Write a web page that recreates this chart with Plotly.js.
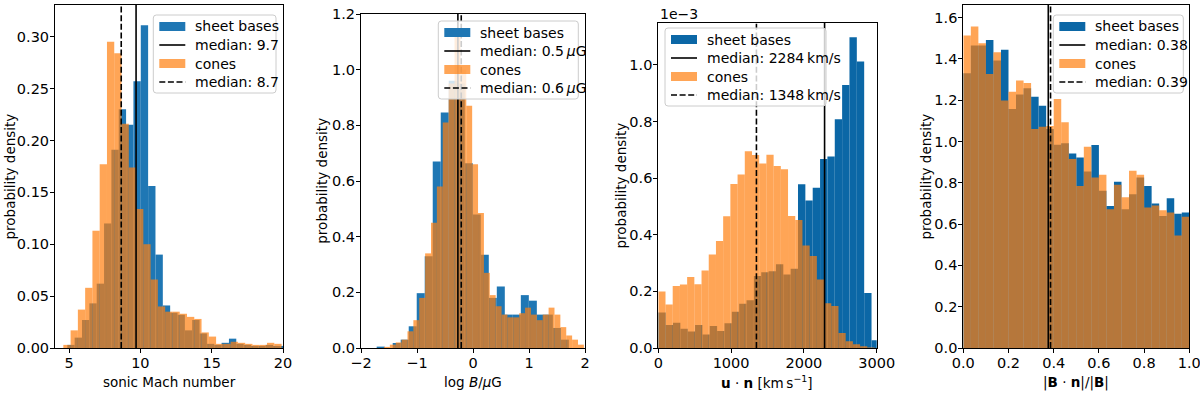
<!DOCTYPE html>
<html>
<head>
<meta charset="utf-8">
<script src="https://cdn.plot.ly/plotly-3.0.1.min.js"></script>
<style>
  html, body { margin: 0; padding: 0; background: #fff; }
  #chart { width: 1200px; height: 397px; }
</style>
</head>
<body>
<div id="chart"></div>
<script>
// ============================================================================
// Sheet bases vs cones: four normalised histograms
// ============================================================================

// --- panel 1: sonic Mach number ---
const machSheetStart = 4.88, machSheetWidth = 0.515;
const machSheet = [0.003, 0.010, 0.027, 0.043, 0.062, 0.120, 0.191, 0.230, 0.215, 0.257,
                   0.311, 0.156, 0.090, 0.041, 0.034, 0.032, 0.017, 0.027, 0.014, 0.004,
                   0.003, 0.005, 0.009, 0.004, 0.003, 0.002, 0.002, 0.003, 0.002, 0.002];
const machConeStart = 4.6, machConeWidth = 0.51;
const machCone = [0.003, 0.017, 0.037, 0.058, 0.113, 0.177, 0.295, 0.284, 0.216, 0.174,
                  0.134, 0.100, 0.066, 0.040, 0.035, 0.035, 0.033, 0.030, 0.028, 0.015,
                  0.011, 0.004, 0.004, 0.006, 0.005, 0.004, 0.003, 0.003, 0.005, 0.004];

// --- panel 2: log B / muG ---
const bSheetStart = -1.72, bSheetWidth = 0.143;
const bSheet = [0.005, 0.0, 0.018, 0.030, 0.078, 0.197, 0.330, 0.670, 0.846, 0.960,
                0.950, 0.664, 0.480, 0.335, 0.180, 0.221, 0.120, 0.120, 0.190, 0.170,
                0.120, 0.120, 0.072, 0.030];
const bConeStart = -1.59, bConeWidth = 0.105;
const bCone = [0.004, 0.012, 0.020, 0.030, 0.060, 0.100, 0.180, 0.340, 0.450, 0.580,
               0.810, 0.950, 1.130, 1.000, 0.870, 0.660, 0.485, 0.270, 0.190, 0.150,
               0.120, 0.110, 0.110, 0.125, 0.145, 0.120, 0.100, 0.120, 0.145, 0.120,
               0.075, 0.045, 0.030, 0.012];

// --- panel 3: u.n [km/s], density in units of 1e-3 ---
const uSheetStart = 0, uSheetWidth = 101;
const uSheet = [0.125, 0.081, 0.089, 0.068, 0.058, 0.081, 0.048, 0.078, 0.060, 0.087,
                0.128, 0.156, 0.169, 0.254, 0.268, 0.271, 0.296, 0.260, 0.280, 0.578,
                0.521, 0.566, 0.668, 0.676, 0.808, 0.929, 1.098, 1.012, 0.194, 0.027];
const uConeStart = 0, uConeWidth = 99;
const uCone = [0.200, 0.154, 0.219, 0.224, 0.251, 0.225, 0.274, 0.330, 0.378, 0.465,
               0.579, 0.613, 0.695, 0.682, 0.652, 0.683, 0.643, 0.631, 0.466, 0.452,
               0.362, 0.325, 0.242, 0.158, 0.148, 0.053, 0.024, 0.013, 0.006, 0.002];

// --- panel 4: |B.n|/|B| ---
const angStart = 0, angWidth = 1 / 30;
const angSheet = [1.330, 1.465, 1.465, 1.492, 1.392, 1.444, 1.157, 1.227, 1.258, 1.217,
                  1.173, 1.060, 0.984, 0.991, 0.942, 0.923, 0.855, 0.983, 0.761, 0.688,
                  0.805, 0.672, 0.745, 0.826, 0.785, 0.700, 0.639, 0.725, 0.650, 0.656];
const angCone = [1.513, 1.557, 1.476, 1.327, 1.432, 1.198, 1.241, 1.295, 1.283, 1.060,
                 1.072, 1.075, 1.206, 1.093, 0.915, 0.785, 0.974, 0.826, 0.839, 0.672,
                 0.790, 0.730, 0.858, 0.839, 0.680, 0.690, 0.667, 0.656, 0.545, 0.635];

// medians (sheet bases solid, cones dashed)
const medianSheet = [9.7, -0.27, 2284, 0.376];
const medianCone = [8.66, -0.21, 1348, 0.386];
const medianSheetLabels = ['median: 9.7', 'median: 0.5\u2009<i>μ</i>G', 'median: 2284\u2009km/s', 'median: 0.38'];
const medianConeLabels = ['median: 8.7', 'median: 0.6\u2009<i>μ</i>G', 'median: 1348\u2009km/s', 'median: 0.39'];

const xTitles = ['sonic Mach number', 'log <i>B</i>/<i>μ</i>G',
                 '<b>u</b> · <b>n</b> [km\u2009s<sup>−1</sup>]', '|<b>B</b> · <b>n</b>|/|<b>B</b>|'];

// ----------------------------------------------------------------------------
const W = 1200, H = 397;
const FONT = 'DejaVu Sans, sans-serif';
const TICK_SIZE = 14.5, LABEL_SIZE = 13.5, LEGEND_SIZE = 14;
const px = p => p / W;
const py = p => 1 - p / H;

const blues = ['#1f77b4', '#1f77b4', '#0b67a6', '#0b67a6'];
const orange = 'rgba(255,127,14,0.7)';
const DASH = '6px,2.6px';

// plot boxes in pixels: left, right, top, bottom
const boxes = [
    { l: 55, r: 283, t: 5, b: 348 },
    { l: 361, r: 585, t: 14, b: 348 },
    { l: 658.3, r: 876.7, t: 23, b: 348 },
    { l: 963.3, r: 1189.3, t: 5, b: 348 }
];
const legendBoxes = [
    { l: 153.3, r: 276, t: 15 },
    { l: 438.3, r: 578.3, t: 21 },
    { l: 665, r: 826, t: 28 },
    { l: 1053.3, r: 1183.3, t: 15 }
];

const edges = (start, width, n) => Array.from({ length: n }, (_, i) => start + i * width);

const series = [
    [machSheetStart, machSheetWidth, machSheet, machConeStart, machConeWidth, machCone],
    [bSheetStart, bSheetWidth, bSheet, bConeStart, bConeWidth, bCone],
    [uSheetStart, uSheetWidth, uSheet, uConeStart, uConeWidth, uCone],
    [angStart, angWidth, angSheet, angStart, angWidth, angCone]
];

const traces = [];
series.forEach((s, i) => {
    const ax = i === 0 ? '' : String(i + 1);
    traces.push({
        type: 'bar', x: edges(s[0], s[1], s[2].length), y: s[2],
        width: s[1], offset: 0, xaxis: 'x' + ax, yaxis: 'y' + ax,
        marker: { color: blues[i], line: { width: 0 } }, showlegend: false, hoverinfo: 'skip'
    });
    traces.push({
        type: 'bar', x: edges(s[3], s[4], s[5].length), y: s[5],
        width: s[4], offset: 0, xaxis: 'x' + ax, yaxis: 'y' + ax,
        marker: { color: orange, line: { width: 0 } }, showlegend: false, hoverinfo: 'skip'
    });
});

const axisBase = {
    showline: true, mirror: true, linecolor: 'black', linewidth: 1,
    ticks: 'outside', ticklen: 4, tickwidth: 1, tickcolor: 'black',
    showgrid: false, zeroline: false, fixedrange: true,
    ticklabeloverflow: 'allow',
    tickfont: { family: FONT, size: TICK_SIZE, color: 'black' }
};

const xRanges = [[4.017, 20], [-2, 2], [0, 3000], [0, 1]];
const xTicks = [[5, 10, 15, 20], [-2, -1, 0, 1, 2], [0, 1000, 2000, 3000], [0, 0.2, 0.4, 0.6, 0.8, 1.0]];
const xFormats = ['d', 'd', 'd', '.1f'];
const yRanges = [[0, 0.3305], [0, 1.2], [0, 1.148], [0, 1.661]];
const yTicks = [[0, 0.05, 0.1, 0.15, 0.2, 0.25, 0.3], [0, 0.2, 0.4, 0.6, 0.8, 1.0, 1.2],
                [0, 0.2, 0.4, 0.6, 0.8, 1.0], [0, 0.2, 0.4, 0.6, 0.8, 1.0, 1.2, 1.4, 1.6]];
const yFormats = ['.2f', '.1f', '.1f', '.1f'];

const layout = {
    width: W, height: H,
    margin: { l: 0, r: 0, t: 0, b: 0 },
    paper_bgcolor: 'white', plot_bgcolor: 'white',
    barmode: 'overlay', showlegend: false,
    font: { family: FONT, size: LABEL_SIZE, color: 'black' },
    shapes: [], annotations: []
};

boxes.forEach((bx, i) => {
    const ax = i === 0 ? '' : String(i + 1);
    layout['xaxis' + ax] = {
        ...axisBase, domain: [px(bx.l), px(bx.r)], range: xRanges[i],
        tickvals: xTicks[i], tickformat: xFormats[i], anchor: 'y' + ax,
        ticklabelstandoff: -2
    };
    layout['yaxis' + ax] = {
        ...axisBase, domain: [py(bx.b), py(bx.t)], range: yRanges[i],
        tickvals: yTicks[i], tickformat: yFormats[i], anchor: 'x' + ax,
        ticklabelstandoff: -2
    };

    // median lines
    layout.shapes.push({
        type: 'line', xref: 'x' + ax, yref: 'y' + ax + ' domain',
        x0: medianSheet[i], x1: medianSheet[i], y0: 0, y1: 1,
        line: { color: 'black', width: 1.6 }
    });
    layout.shapes.push({
        type: 'line', xref: 'x' + ax, yref: 'y' + ax + ' domain',
        x0: medianCone[i], x1: medianCone[i], y0: 0, y1: 1,
        line: { color: 'black', width: 1.6, dash: DASH }
    });

    // axis titles
    layout.annotations.push({
        xref: 'paper', yref: 'paper', x: px((bx.l + bx.r) / 2), y: py(382),
        text: xTitles[i], showarrow: false, xanchor: 'center', yanchor: 'middle',
        font: { family: FONT, size: LABEL_SIZE }
    });
    const yTitleX = [9, 321.7, 620, 925][i];
    layout.annotations.push({
        xref: 'paper', yref: 'paper', x: px(yTitleX), y: py((bx.t + bx.b) / 2),
        text: 'probability density', textangle: -90, showarrow: false,
        xanchor: 'center', yanchor: 'middle', font: { family: FONT, size: LABEL_SIZE }
    });

    // legend, drawn by hand like matplotlib's
    const lb = legendBoxes[i];
    const lh = 78, r = 3;
    const L = lb.l, R = lb.r, T = lb.t, B = lb.t + lh;
    const P = (x, y) => px(x) + ',' + py(y);
    layout.shapes.push({
        type: 'path', xref: 'paper', yref: 'paper',
        path: 'M' + P(L + r, T) + 'L' + P(R - r, T) + 'Q' + P(R, T) + ' ' + P(R, T + r) +
              'L' + P(R, B - r) + 'Q' + P(R, B) + ' ' + P(R - r, B) +
              'L' + P(L + r, B) + 'Q' + P(L, B) + ' ' + P(L, B - r) +
              'L' + P(L, T + r) + 'Q' + P(L, T) + ' ' + P(L + r, T) + 'Z',
        fillcolor: 'rgba(255,255,255,0.8)', line: { color: '#cccccc', width: 1 }
    });
    const rows = [11.5, 30, 48.5, 67].map(d => T + d);
    const hx0 = L + 6, hx1 = L + 32;
    const rowLabels = ['sheet bases', medianSheetLabels[i], 'cones', medianConeLabels[i]];
    rows.forEach((ry, k) => {
        if (k === 0 || k === 2) {
            layout.shapes.push({
                type: 'rect', xref: 'paper', yref: 'paper',
                x0: px(hx0), x1: px(hx1), y0: py(ry + 4.5), y1: py(ry - 4.5),
                fillcolor: k === 0 ? blues[i] : orange, line: { width: 0 }
            });
        } else {
            layout.shapes.push({
                type: 'line', xref: 'paper', yref: 'paper',
                x0: px(hx0), x1: px(hx1), y0: py(ry), y1: py(ry),
                line: { color: 'black', width: 1.6, dash: k === 3 ? DASH : 'solid' }
            });
        }
        layout.annotations.push({
            xref: 'paper', yref: 'paper', x: px(L + 40), y: py(ry),
            text: rowLabels[k], showarrow: false, xanchor: 'left', yanchor: 'middle',
            font: { family: FONT, size: LEGEND_SIZE }
        });
    });
});

// offset text for the u.n panel
layout.annotations.push({
    xref: 'paper', yref: 'paper', x: px(658), y: py(14),
    text: '1e−3', showarrow: false, xanchor: 'left', yanchor: 'middle',
    font: { family: FONT, size: 14 }
});

Plotly.newPlot('chart', traces, layout, { displayModeBar: false, staticPlot: true });
</script>
</body>
</html>
